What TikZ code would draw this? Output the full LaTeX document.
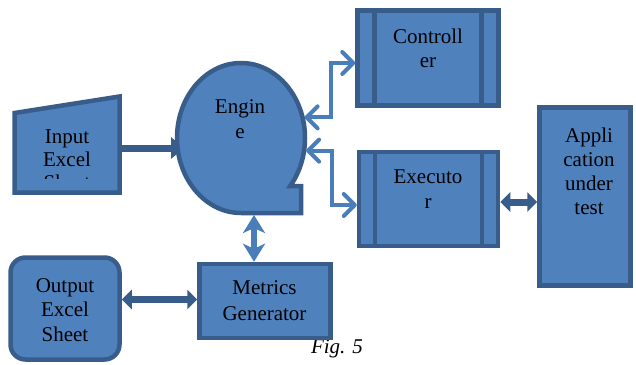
\documentclass[tikz,border=0pt]{standalone}
\usepackage{fontspec}
\setmainfont{Liberation Serif}
\usetikzlibrary{arrows.meta,shapes.geometric}
\definecolor{fillb}{HTML}{4F81BD}
\definecolor{edgeb}{HTML}{385D8A}
\definecolor{lineb}{HTML}{4A7EBB}
\begin{document}
\begin{tikzpicture}[x=1pt,y=-1pt,
  shp/.style={draw=edgeb, fill=fillb, line width=4.5pt, line join=miter},
  box/.style={shp, rectangle, inner sep=0pt},
  divider/.style={draw=edgeb, line width=4.5pt},
  txt/.style={font=\fontsize{21}{24}\selectfont, anchor=base, inner sep=0pt},
  darr/.style={draw=edgeb, line width=7pt,
    {Triangle[length=10pt,width=19pt]}-{Triangle[length=10pt,width=19pt]}},
  sarr/.style={draw=edgeb, line width=7pt, -{Triangle[length=13pt,width=21pt]}},
  larr/.style={draw=lineb, line width=4pt, line join=miter,
    {Straight Barb[length=11pt,width=22pt,round]}-{Straight Barb[length=11pt,width=22pt,round]}},
  varr/.style={draw=lineb, fill=lineb, line width=6pt,
    {Stealth[length=18pt,width=22pt,inset=5pt]}-{Stealth[length=18pt,width=22pt,inset=5pt]}}
]
\useasboundingbox (0,0) rectangle (636,364);

% caption (drawn first: the Metrics box covers its top)
\node[txt, font=\fontsize{21}{24}\selectfont\itshape] (cap) at (337,353) {Fig. 5};

% Input Excel Sheet (manual input shape)
\draw[shp] (14.5,113) -- (119.5,96.5) -- (119.5,192.5) -- (14.5,192.5) -- cycle;
\coordinate (inpE) at (121.5,148);
\begin{scope}
  \clip (0,0) rectangle (636,178);
  \node[txt] (in1) at (67,143) {Input};
  \node[txt] (in2) at (67,166) {Excel};
  \node[txt] (in3) at (67,189) {Sheet};
\end{scope}

% Engine (sequential storage shape); its arrow head runs under it
\node[ellipse, minimum width=128pt, minimum height=150pt, inner sep=0pt, outer sep=2pt] (eng) at (241,138) {};
\coordinate (engIn) at ([xshift=9pt]inpE -| eng.west);
\draw[sarr] (inpE) -- (engIn);
\draw[shp] (241,213) arc[start angle=90, end angle=399.8, x radius=64, y radius=75]
  -- (301,186) -- (301,213) -- cycle;
\node[txt] (en1) at (240,113) {Engin};
\node[txt] (en2) at (240,138) {e};

% Controller
\node[box, minimum width=141pt, minimum height=95pt] (ctl) at (428,58) {};
\draw[divider] ([xshift=-53.5pt]ctl.north) -- ([xshift=-53.5pt]ctl.south);
\draw[divider] ([xshift=53.5pt]ctl.north) -- ([xshift=53.5pt]ctl.south);
\node[txt] (ct1) at (428,43) {Controll};
\node[txt] (ct2) at (428,67) {er};

% Executor
\node[box, minimum width=139pt, minimum height=94pt] (exe) at (428.5,199) {};
\draw[divider] ([xshift=-53.5pt]exe.north) -- ([xshift=-53.5pt]exe.south);
\draw[divider] ([xshift=53.5pt]exe.north) -- ([xshift=53.5pt]exe.south);
\node[txt] (ex1) at (428,183) {Executo};
\node[txt] (ex2) at (428,208) {r};

% Application under test
\node[box, minimum width=91pt, minimum height=178pt] (app) at (585,196.5) {};
\node[txt] (ap1) at (589,142) {Appli};
\node[txt] (ap2) at (589,166) {cation};
\node[txt] (ap3) at (589,190) {under};
\node[txt] (ap4) at (589,214) {test};

% Metrics Generator
\node[box, minimum width=131pt, minimum height=74pt] (met) at (265,301) {};
\node[txt] (me1) at (264.5,294) {Metrics};
\node[txt] (me2) at (264.5,320) {Generator};

% Output Excel Sheet
\node[box, rounded corners=15pt, minimum width=109pt, minimum height=102pt] (out) at (65,308.5) {};
\node[txt] (ou1) at (65,292) {Output};
\node[txt] (ou2) at (65,316) {Excel};
\node[txt] (ou3) at (65,341) {Sheet};

% connectors
\coordinate (ee) at ([yshift=-3pt]exe.east);
\draw[darr] (ee) -- (ee -| app.west);
\coordinate (mw) at ([yshift=1.5pt]met.west);
\draw[darr] (mw -| out.east) -- (mw);
\draw[larr] (eng.18) -- ++(26,0) |- ([yshift=-5pt]ctl.west);
\draw[larr] (eng.-11) -- ++(26,0) |- ([yshift=-6pt]exe.west);
\coordinate (eb) at ([xshift=13pt]eng.south);
\draw[varr] (eb) -- (eb |- met.north);
\end{tikzpicture}
\end{document}
